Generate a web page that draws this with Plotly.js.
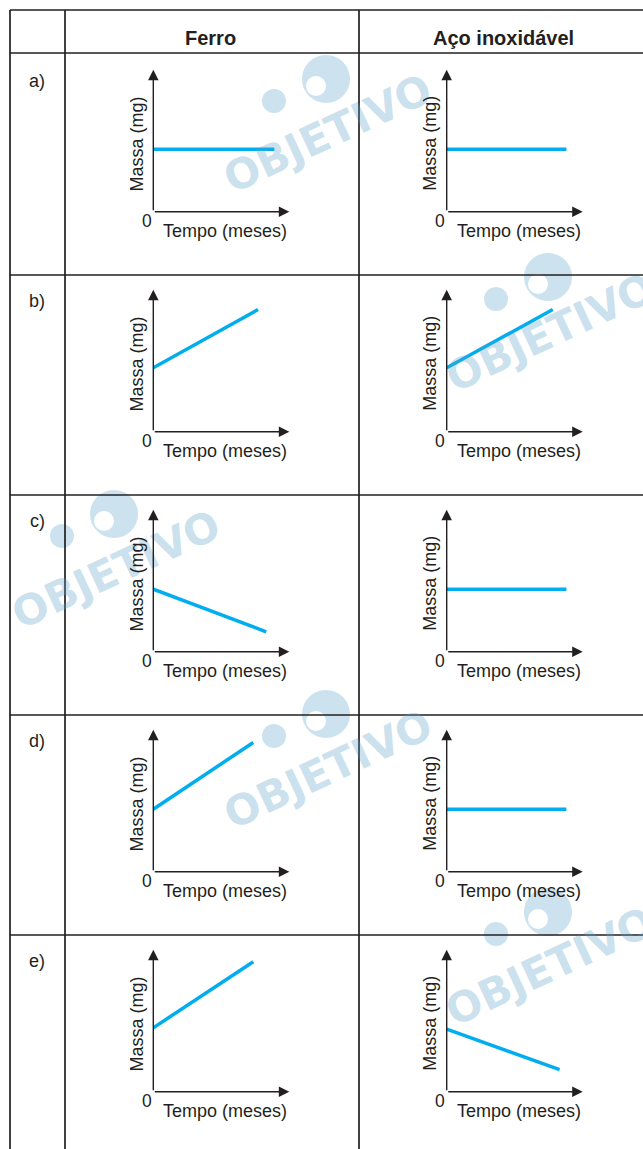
<!DOCTYPE html>
<html>
<head>
<meta charset="utf-8">
<script src="https://cdn.plot.ly/plotly-3.0.1.min.js"></script>
<style>html,body{margin:0;padding:0;background:#fff}#chart{width:643px;height:1149px}</style>
</head>
<body>
<div id="chart"></div>
<script>
// ---- data ----
const rowLabels = ['a)', 'b)', 'c)', 'd)', 'e)'];
const columnTitles = ['Ferro', 'Aço inoxidável'];
const xAxisLabel = 'Tempo (meses)';
const yAxisLabel = 'Massa (mg)';
const originLabel = '0';
// mass as fraction of the axis height, time as fraction of the axis length
const ferroStartMass = [0.44, 0.45, 0.44, 0.44, 0.45];
const ferroEndTime   = [0.89, 0.77, 0.83, 0.735, 0.735];
const ferroEndMass   = [0.44, 0.86, 0.14, 0.91, 0.915];
const acoStartMass   = [0.44, 0.45, 0.44, 0.44, 0.44];
const acoEndTime     = [0.88, 0.78, 0.88, 0.88, 0.83];
const acoEndMass     = [0.44, 0.86, 0.44, 0.44, 0.155];
const watermarkText  = 'OBJETIVO';

// ---- layout helpers ----
const W = 643, H = 1149;
const px = v => v / W;
const py = v => 1 - v / H;
const INK = '#231f20';
const LINE = '#00aeef';
const FONT = 'Liberation Sans, Arial, sans-serif';

const series = [
  {start: ferroStartMass, endT: ferroEndTime, endM: ferroEndMass},
  {start: acoStartMass, endT: acoEndTime, endM: acoEndMass}
];

const data = [];
const layout = {
  width: W, height: H,
  margin: {l: 0, r: 0, t: 0, b: 0},
  paper_bgcolor: '#ffffff',
  plot_bgcolor: 'rgba(0,0,0,0)',
  showlegend: false,
  annotations: [],
  shapes: []
};

// watermark (logo discs below, text above with transparency)
const wmOffsets = [[0, 0], [222, 198], [-212, 435], [0, 635], [222, 833]];
const wmFill = 'rgb(204,226,238)';
wmOffsets.forEach(([dx, dy]) => {
  const circ = (cx, cy, r, col) => layout.shapes.push({
    type: 'circle', xref: 'paper', yref: 'paper', layer: 'below',
    x0: px(cx - r), x1: px(cx + r), y0: py(cy + r), y1: py(cy - r),
    fillcolor: col, line: {width: 0}
  });
  circ(326 + dx, 79 + dy, 24, wmFill);
  circ(316 + dx, 86 + dy, 10, '#ffffff');
  circ(274 + dx, 101 + dy, 12, wmFill);
  layout.annotations.push({
    xref: 'paper', yref: 'paper', x: px(328 + dx), y: py(134 + dy),
    xanchor: 'center', yanchor: 'middle', showarrow: false,
    text: '<b>' + watermarkText + '</b>', textangle: -25,
    font: {family: 'DejaVu Sans, sans-serif', size: 42, color: 'rgba(90,160,200,0.33)'}
  });
});

// table grid
const hLines = [10, 53, 275, 495, 715, 935];
const vLines = [10, 65, 359];
hLines.forEach(y => layout.shapes.push({
  type: 'line', xref: 'paper', yref: 'paper', x0: px(10), x1: px(W), y0: py(y), y1: py(y),
  line: {color: INK, width: 1.7}
}));
vLines.forEach(x => layout.shapes.push({
  type: 'line', xref: 'paper', yref: 'paper', x0: px(x), x1: px(x), y0: py(10), y1: py(H),
  line: {color: INK, width: 1.7}
}));

// headers
const colCenters = [210, 503];
columnTitles.forEach((t, c) => layout.annotations.push({
  xref: 'paper', yref: 'paper', x: px(colCenters[c]), y: py(38),
  xanchor: 'center', yanchor: 'middle', showarrow: false, text: '<b>' + t + '</b>',
  font: {family: FONT, size: 20, color: INK}
}));

// panels
const AXW = 136, AXH = 142;
rowLabels.forEach((lab, r) => {
  const yb = 211.7 + 220 * r;
  layout.annotations.push({
    xref: 'paper', yref: 'paper', x: px(37), y: py(81 + 220 * r),
    xanchor: 'center', yanchor: 'middle', showarrow: false, text: lab,
    font: {family: FONT, size: 18, color: INK}
  });
  for (let c = 0; c < 2; c++) {
    const idx = r * 2 + c + 1;
    const sfx = idx === 1 ? '' : String(idx);
    const xl = 153.3 + 293.4 * c;
    layout['xaxis' + sfx] = {
      domain: [px(xl), px(xl + AXW)], range: [0, 1], visible: false,
      fixedrange: true, anchor: 'y' + sfx
    };
    layout['yaxis' + sfx] = {
      domain: [py(yb), py(yb - AXH)], range: [0, 1], visible: false,
      fixedrange: true, anchor: 'x' + sfx
    };
    const s = series[c];
    data.push({
      type: 'scatter', mode: 'lines', xaxis: 'x' + sfx, yaxis: 'y' + sfx,
      x: [0, s.endT[r]], y: [s.start[r], s.endM[r]],
      line: {color: LINE, width: 3.5}, hoverinfo: 'skip', cliponaxis: false
    });
    // axes with arrowheads
    const arrowBase = {
      xref: 'x' + sfx, yref: 'y' + sfx, axref: 'x' + sfx, ayref: 'y' + sfx,
      showarrow: true, arrowhead: 2, arrowsize: 1.5, arrowwidth: 1.4,
      arrowcolor: INK, text: '', standoff: 0
    };
    layout.annotations.push(Object.assign({}, arrowBase, {x: 1, y: 0, ax: 0, ay: 0}));
    layout.annotations.push(Object.assign({}, arrowBase, {x: 0, y: 1, ax: 0, ay: 0}));
    // labels
    layout.annotations.push({
      xref: 'paper', yref: 'paper', x: px(xl - 6.5), y: py(yb + 9.5),
      xanchor: 'center', yanchor: 'middle', showarrow: false, text: originLabel,
      font: {family: FONT, size: 17.5, color: INK}
    });
    layout.annotations.push({
      xref: 'paper', yref: 'paper', x: px(xl + 72), y: py(yb + 19),
      xanchor: 'center', yanchor: 'middle', showarrow: false, text: xAxisLabel,
      font: {family: FONT, size: 18, color: INK}
    });
    layout.annotations.push({
      xref: 'paper', yref: 'paper', x: px(xl - 16.6), y: py(yb - 68),
      xanchor: 'center', yanchor: 'middle', showarrow: false, text: yAxisLabel,
      textangle: -90, font: {family: FONT, size: 18, color: INK}
    });
  }
});

Plotly.newPlot('chart', data, layout, {displayModeBar: false, staticPlot: true});
</script>
</body>
</html>
